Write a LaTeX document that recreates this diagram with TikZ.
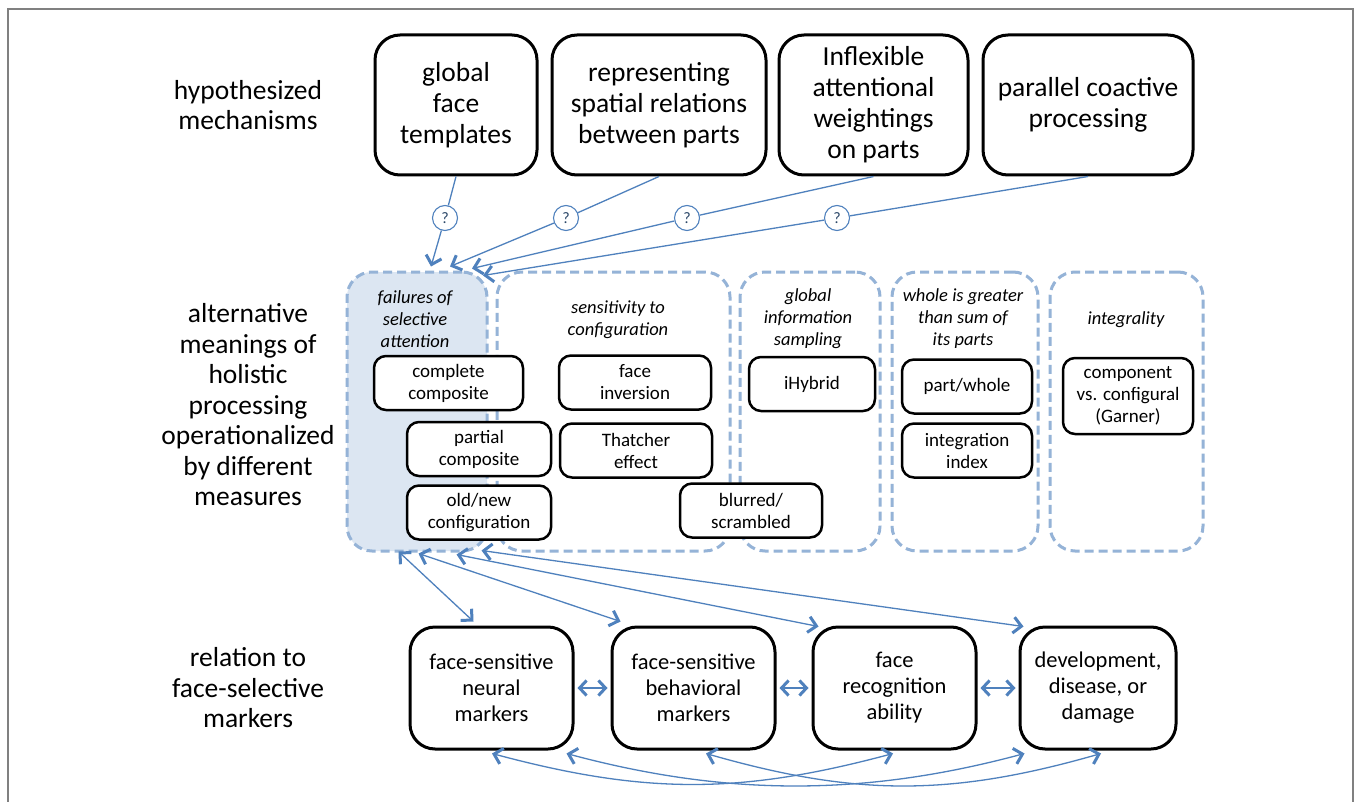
\documentclass[tikz,border=0pt]{standalone}
\usepackage{fontspec}
\setmainfont{Carlito}
\usetikzlibrary{arrows.meta,calc}
\definecolor{myblue}{HTML}{4F81BD}
\definecolor{dashblue}{HTML}{95B3D7}
\definecolor{fillblue}{HTML}{DCE6F2}
\definecolor{framegray}{HTML}{808080}
\begin{document}
\begin{tikzpicture}[x=1pt,y=-1pt,
  topbox/.style={draw, line width=3pt, rounded corners=25pt, minimum height=140pt, align=center, font=\fontsize{27.5}{31}\selectfont, inner sep=2pt},
  catbox/.style={draw=dashblue, line width=3pt, dash pattern=on 9pt off 5pt, rounded corners=25pt, minimum height=279pt},
  catlab/.style={align=center, font=\fontsize{18.5}{22}\selectfont\itshape},
  inbox/.style={draw, fill=white, line width=2.5pt, rounded corners=12pt, minimum height=54pt, align=center, font=\fontsize{19}{22}\selectfont, inner sep=1pt},
  botbox/.style={draw, line width=3pt, rounded corners=25pt, minimum width=163pt, minimum height=122pt, align=center, font=\fontsize{22.5}{26}\selectfont},
  rowlab/.style={align=center, font=\fontsize{27.5}{30.5}\selectfont},
  qcirc/.style={circle, draw=myblue, line width=1.1pt, fill=white, minimum size=25pt, inner sep=0pt, font=\fontsize{16}{16}\selectfont, text=myblue!55!black},
  ln/.style={draw=myblue, line width=1.3pt},
  tip/.tip={Straight Barb[length=8pt,width=16pt,line width=3pt]},
  arr/.style={ln, -tip},
  darr/.style={ln, tip-tip},
  htip/.tip={Straight Barb[length=7pt,width=15pt,line width=3pt]},
  harr/.style={draw=myblue, line width=2.5pt, shorten <=3pt, shorten >=3pt, htip-htip},
]
\useasboundingbox[fill=white] (0,0) rectangle (1356,802);
\draw[framegray, line width=1.5pt] (8,802) -- (8,9) -- (1353,9) -- (1353,802);

% row labels
\node[rowlab] (l1) at (248,105) {hypothesized\\mechanisms};
\node[rowlab] (l2) at (248,405) {alternative\\meanings of\\holistic\\processing\\operationalized\\by different\\measures};
\node[rowlab] (l3) at (248,688) {relation to\\face-selective\\markers};

% top boxes
\node[topbox, minimum width=162pt] (t1) at (456,105) {global\\face\\templates};
\node[topbox, minimum width=214pt] (t2) at (659,105) {representing\\spatial relations\\between parts};
\node[topbox, minimum width=189pt] (t3) at (873.5,105) {Inflexible\\attentional\\weightings\\on parts};
\node[topbox, minimum width=210pt] (t4) at (1088,105) {parallel coactive\\processing};

% category boxes
\node[catbox, fill=fillblue, minimum width=140pt] (fail) at (417,411.5) {};
\node[catbox, minimum width=233pt] (conf) at (613.5,411.5) {};
\node[catbox, minimum width=140pt] (glob) at (810,411.5) {};
\node[catbox, minimum width=146pt] (whole) at (965,411.5) {};
\node[catbox, minimum width=153pt] (integ) at (1126.5,411.5) {};

\node[catlab] (cl1) at (415,319) {failures of\\selective\\attention};
\node[catlab] (cl2) at (618,320) {sensitivity to\\configuration};
\node[catlab] (cl3) at (808,319) {global\\information\\sampling};
\node[catlab] (cl4) at (963,319) {whole is greater\\than sum of\\its parts};
\node[catlab] (cl5) at (1126,320) {integrality};

% measure boxes
\node[inbox, minimum width=149pt] (cc) at (448.5,383) {complete\\composite};
\node[inbox, minimum width=144pt] (pc) at (479,449) {partial\\composite};
\node[inbox, minimum width=144pt] (on) at (479,512.5) {old/new\\configuration};
\node[inbox, minimum width=152pt] (fi) at (635,382.5) {face\\inversion};
\node[inbox, minimum width=152pt] (th) at (636,450.5) {Thatcher\\effect};
\node[inbox, minimum width=142pt] (bs) at (751,510.5) {blurred/\\scrambled};
\node[inbox, minimum width=126pt] (ih) at (812,384) {iHybrid};
\node[inbox, minimum width=130pt] (pw) at (967,386.5) {part/whole};
\node[inbox, minimum width=130pt] (ii) at (967,450.5) {integration\\index};
\node[inbox, minimum width=130pt, minimum height=76pt] (cg) at (1128,396) {component\\vs. configural\\(Garner)};

% bottom boxes
\node[botbox] (bn) at (491.5,688) {face-sensitive\\neural\\markers};
\node[botbox] (bb) at (693.5,688) {face-sensitive\\behavioral\\markers};
\node[botbox] (br) at (894.5,688) {face\\recognition\\ability};
\node[botbox, minimum width=156pt] (bd) at (1098,688) {development,\\disease, or\\damage};

% question circles
\node[qcirc] (q1) at (445,218) {?};
\node[qcirc] (q2) at (566,218) {?};
\node[qcirc] (q3) at (687,218) {?};
\node[qcirc] (q4) at (837,218) {?};

% target points on failures box
\coordinate (ft1) at ($(fail.north)+(14,-4)$);
\coordinate (ft2) at ($(fail.north)+(33,-4)$);
\coordinate (ft3) at ($(fail.north)+(55,-2)$);
\coordinate (ft4) at ($(fail.north)+(66,5)$);

\draw[ln] (t1.south) -- (q1);
\draw[arr] (q1) -- (ft1);
\draw[ln] (t2.south) -- (q2);
\draw[arr] (q2) -- (ft2);
\draw[ln] (t3.south) -- (q3);
\draw[arr] (q3) -- (ft3);
\draw[ln] (t4.south) -- (q4);
\draw[arr] (q4) -- (ft4);

% failures box to bottom boxes
\coordinate (fa) at ($(fail.south west)+(53,-1)$);
\coordinate (fb) at ($(fail.south west)+(73,1)$);
\coordinate (fc) at ($(fail.south west)+(111,2)$);
\coordinate (fd) at ($(fail.south west)+(136,-2)$);
\coordinate (na) at ($(bn.north)+(-18,-4)$);
\coordinate (nb) at ($(bb.north west)+(10,-4)$);
\coordinate (nc) at ($(br.north west)+(7,1)$);
\coordinate (nd) at ($(bd.north west)+(5,1)$);
\draw[darr] (fa) -- (na);
\draw[darr] (fb) -- (nb);
\draw[darr] (fc) -- (nc);
\draw[darr] (fd) -- (nd);

% horizontal arrows
\draw[harr] (bn.east) -- (bb.west);
\draw[harr] (bb.east) -- (br.west);
\draw[harr] (br.east) -- (bd.west);

% bottom curves
\coordinate (n1) at ($(bn.south)+(0.5,3)$);
\coordinate (n2) at ($(bn.south east)+(-8,3)$);
\coordinate (b1) at ($(bb.south)+(12.5,3)$);
\coordinate (r1) at ($(br.south)+(-1.5,3)$);
\coordinate (d1) at ($(bd.south west)+(6,3)$);
\coordinate (d2) at ($(bd.south)+(3,3)$);
\draw[darr] (n1) .. controls ($(n1)+(153,41)$) and ($(r1)+(-153,41)$) .. (r1);
\draw[darr] (n2) .. controls ($(n2)+(160,43)$) and ($(d1)+(-160,43)$) .. (d1);
\draw[darr] (b1) .. controls ($(b1)+(150,43)$) and ($(d2)+(-150,43)$) .. (d2);
\end{tikzpicture}
\end{document}
